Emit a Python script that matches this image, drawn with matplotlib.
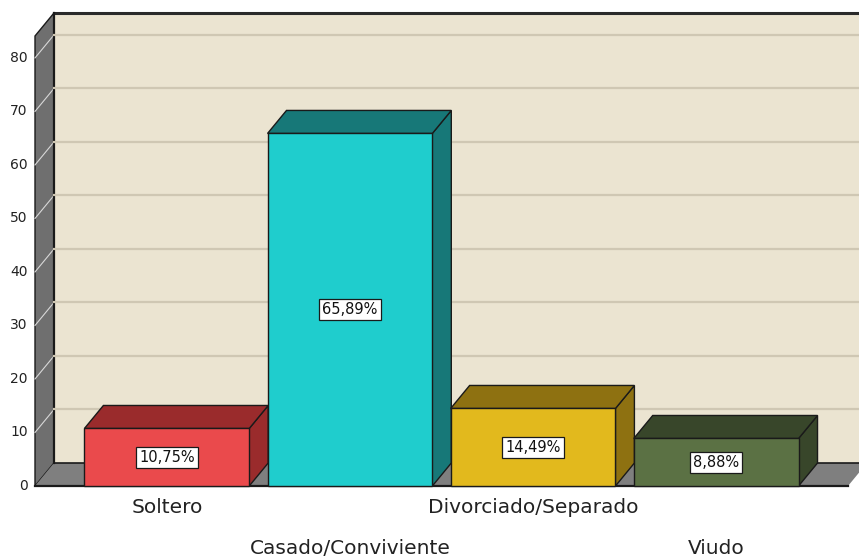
import matplotlib
matplotlib.use("Agg")
import matplotlib.pyplot as plt
from matplotlib.patches import Polygon, Rectangle

categorias = ["Soltero", "Casado/Conviviente", "Divorciado/Separado", "Viudo"]
porcentajes = [10.75, 65.89, 14.49, 8.88]
etiquetas = ["10,75%", "65,89%", "14,49%", "8,88%"]
yticks = [0, 10, 20, 30, 40, 50, 60, 70, 80]

cara = ["#ea4a4c", "#1fcdcd", "#e2b91d", "#5b7144"]
lado = ["#9a2b2c", "#177878", "#8e7111", "#38462a"]

W, H = 859, 557
fig = plt.figure(figsize=(W / 100, H / 100), dpi=100)
# plano frontal: x de 35 a 848 px, y=0 en 486 px, 5.35 px por unidad
ax = fig.add_axes([35 / W, (H - 486) / H, 813 / W, 450 / H])
xmin, xmax = -0.72, 3.72
ymax = 84.1
ax.set_xlim(xmin, xmax)
ax.set_ylim(0, ymax)
ax.axis("off")

# profundidad del efecto 3D en unidades de datos
dx = 19 / 183.5
dy = 23 / 5.35
ancho = 0.9

kw = dict(clip_on=False)

# pared del fondo
ax.add_patch(Rectangle((xmin + dx, dy), xmax - xmin + 1, ymax, facecolor="#ebe4d1",
                       edgecolor="none", zorder=0.5, **kw))
ax.plot([xmin + dx, xmax + 1], [ymax + dy, ymax + dy], color="#2a2a2a", lw=2.2, **kw)
ax.plot([xmin + dx, xmin + dx], [dy, ymax + dy], color="#1a1a1a", lw=1.6, **kw)

# lineas de cuadricula
for t in yticks[1:]:
    ax.plot([xmin + dx, xmax + 1], [t + dy, t + dy], color="#cfc7b3", lw=1.6, **kw)

# pared izquierda
ax.add_patch(Polygon([(xmin, 0), (xmin, ymax), (xmin + dx, ymax + dy), (xmin + dx, dy)],
                     closed=True, facecolor="#6f6f6f", edgecolor="#1a1a1a", lw=1.0,
                     zorder=1, **kw))
for t in yticks[1:]:
    ax.plot([xmin, xmin + dx], [t, t + dy], color="#d8d8d8", lw=0.8, zorder=1.1, **kw)

# suelo
ax.add_patch(Polygon([(xmin, 0), (xmax, 0), (xmax + dx, dy), (xmin + dx, dy)],
                     closed=True, facecolor="#7f7f7f", edgecolor="none", zorder=1.2, **kw))
ax.plot([xmin, xmax], [0, 0], color="#1a1a1a", lw=1.6, zorder=1.3, **kw)
ax.plot([xmin + dx, xmax + dx], [dy, dy], color="#1a1a1a", lw=1.2, zorder=1.3, **kw)

# barras
for i, (v, c1, c2) in enumerate(zip(porcentajes, cara, lado)):
    x0, x1 = i - ancho / 2, i + ancho / 2
    ax.add_patch(Polygon([(x1, 0), (x1, v), (x1 + dx, v + dy), (x1 + dx, dy)], closed=True,
                         facecolor=c2, edgecolor="#1a1a1a", lw=1.0, zorder=2, **kw))
    ax.add_patch(Polygon([(x0, v), (x1, v), (x1 + dx, v + dy), (x0 + dx, v + dy)], closed=True,
                         facecolor=c2, edgecolor="#1a1a1a", lw=1.0, zorder=2, **kw))
    ax.add_patch(Rectangle((x0, 0), ancho, v, facecolor=c1, edgecolor="#1a1a1a",
                           lw=1.0, zorder=3, **kw))
    ax.text(i, v / 2, etiquetas[i], ha="center", va="center", fontsize=10.5, zorder=4,
            color="#111111",
            bbox=dict(boxstyle="square,pad=0.22", facecolor="white", edgecolor="#1a1a1a", lw=0.9))

# etiquetas del eje y
for t in yticks:
    ax.text(xmin - 0.04, t, str(t), ha="right", va="center", fontsize=10, color="#222222")

# etiquetas de categoria escalonadas
for i, nombre in enumerate(categorias):
    yoff = -4.1 if i % 2 == 0 else -11.6
    ax.text(i, yoff, nombre, ha="center", va="center", fontsize=14.5, color="#222222",
            clip_on=False)

fig.savefig("out.png", dpi=100, facecolor="white")
